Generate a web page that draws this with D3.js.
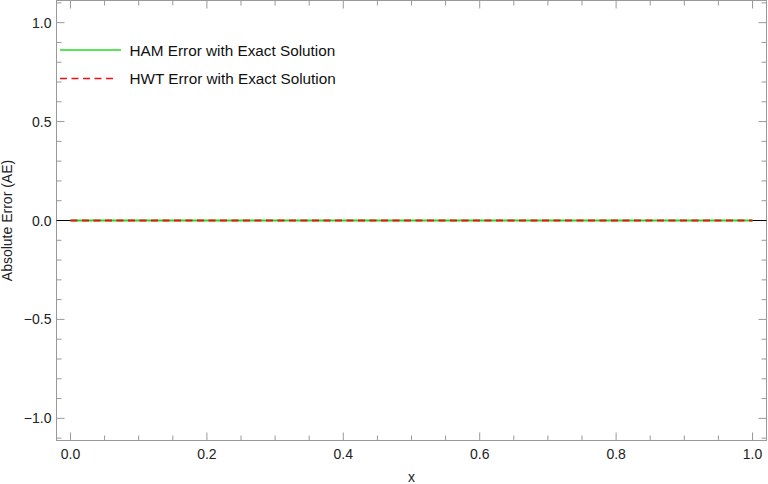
<!DOCTYPE html>
<html>
<head>
<meta charset="utf-8">
<script src="https://cdn.jsdelivr.net/npm/d3@7"></script>
<style>
  body { margin: 0; background: #fff; }
  svg { font-family: "Liberation Sans", Arial, sans-serif; }
</style>
</head>
<body>
<svg id="chart" width="768" height="484"></svg>
<script>
// sample points along x and the absolute errors (all ~0 at this scale)
const xs = [0, 0.05, 0.1, 0.15, 0.2, 0.25, 0.3, 0.35, 0.4, 0.45, 0.5,
            0.55, 0.6, 0.65, 0.7, 0.75, 0.8, 0.85, 0.9, 0.95, 1.0];
const hamErr = [0, 1e-7, 2e-7, 3e-7, 4e-7, 5e-7, 6e-7, 7e-7, 8e-7, 9e-7, 1e-6,
                1e-6, 1e-6, 1e-6, 1e-6, 1e-6, 1e-6, 1e-6, 1e-6, 1e-6, 1e-6];
const hwtErr = [0, 2e-6, 3e-6, 3e-6, 4e-6, 4e-6, 4e-6, 4e-6, 4e-6, 4e-6, 4e-6,
                4e-6, 4e-6, 4e-6, 4e-6, 3e-6, 3e-6, 3e-6, 2e-6, 2e-6, 1e-6];
const seriesNames = ['HAM Error with Exact Solution', 'HWT Error with Exact Solution'];
const xTicks = [0, 0.2, 0.4, 0.6, 0.8, 1.0];
const yTicks = [-1.0, -0.5, 0.0, 0.5, 1.0];

const svg = d3.select('#chart');
const plotL = 56.5, plotR = 766.5, plotT = 0.5, plotB = 440.5;

const x = d3.scaleLinear().domain([-0.0205, 1.0205]).range([plotL, plotR]);
const y = d3.scaleLinear().domain([-1.112, 1.112]).range([plotB, plotT]);

const frameColor = '#999';
const green = '#22dd22', red = '#ee1111';
const dash = '7,4.5';
const g = svg.append('g');

function seg(x1, y1, x2, y2, color) {
  return g.append('line')
    .attr('x1', x1).attr('y1', y1).attr('x2', x2).attr('y2', y2)
    .attr('stroke', color);
}

// minor / major ticks, drawn on all four sides
const xMinor = d3.range(0, 21).map(i => i * 0.05);
const yMinor = d3.range(-11, 12).map(i => i * 0.1);

function isMajor(v, step) {
  return Math.abs(v / step - Math.round(v / step)) < 1e-6;
}

xMinor.forEach(v => {
  const len = isMajor(v, 0.2) ? 8 : 5;
  seg(x(v), plotB, x(v), plotB - len, frameColor);
  seg(x(v), plotT, x(v), plotT + len, frameColor);
});
yMinor.forEach(v => {
  if (y(v) < plotT || y(v) > plotB) return;
  const len = isMajor(v, 0.5) ? 8 : 5;
  seg(plotL, y(v), plotL + len, y(v), frameColor);
  seg(plotR, y(v), plotR - len, y(v), frameColor);
});

// frame
g.append('rect')
  .attr('x', plotL).attr('y', plotT)
  .attr('width', plotR - plotL).attr('height', plotB - plotT)
  .attr('fill', 'none').attr('stroke', frameColor);

// tick labels
g.selectAll('.xl').data(xTicks).enter().append('text')
  .attr('x', d => x(d)).attr('y', plotB + 18)
  .attr('text-anchor', 'middle').attr('font-size', 14).attr('fill', '#222')
  .text(d => d3.format('.1f')(d));
g.selectAll('.yl').data(yTicks).enter().append('text')
  .attr('x', plotL - 5).attr('y', d => y(d) + 5)
  .attr('text-anchor', 'end').attr('font-size', 14).attr('fill', '#222')
  .text(d => d3.format('.1f')(d).replace('-', '\u2212'));

// axis labels
svg.append('text').attr('x', (plotL + plotR) / 2).attr('y', 482)
  .attr('text-anchor', 'middle').attr('font-size', 14).attr('fill', '#222').text('x');
svg.append('text').attr('transform', `translate(12,${(plotT + plotB) / 2}) rotate(-90)`)
  .attr('text-anchor', 'middle').attr('font-size', 14).attr('fill', '#222')
  .text('Absolute Error (AE)');

// zero axis
seg(plotL, y(0), plotR, y(0), '#000');

const line = d3.line().x(d => x(d[0])).y(d => y(d[1]));

g.append('path').datum(xs.map((v, i) => [v, hamErr[i]]))
  .attr('d', line).attr('fill', 'none')
  .attr('stroke', green).attr('stroke-width', 2);
g.append('path').datum(xs.map((v, i) => [v, hwtErr[i]]))
  .attr('d', line).attr('fill', 'none')
  .attr('stroke', red).attr('stroke-width', 2)
  .attr('stroke-dasharray', dash);

// legend
const legend = svg.append('g');
const styles = [
  { color: green, dash: null, end: 121 },
  { color: red, dash: dash, end: 117 }
];
seriesNames.forEach((name, i) => {
  const ly = 50 + i * 28.5;
  legend.append('line')
    .attr('x1', 60).attr('x2', styles[i].end).attr('y1', ly).attr('y2', ly)
    .attr('stroke', styles[i].color).attr('stroke-width', 1.6)
    .attr('stroke-dasharray', styles[i].dash);
  legend.append('text').attr('x', 129.5).attr('y', ly + 5.5)
    .attr('font-size', 15.3).attr('fill', '#111').text(name);
});
</script>
</body>
</html>
